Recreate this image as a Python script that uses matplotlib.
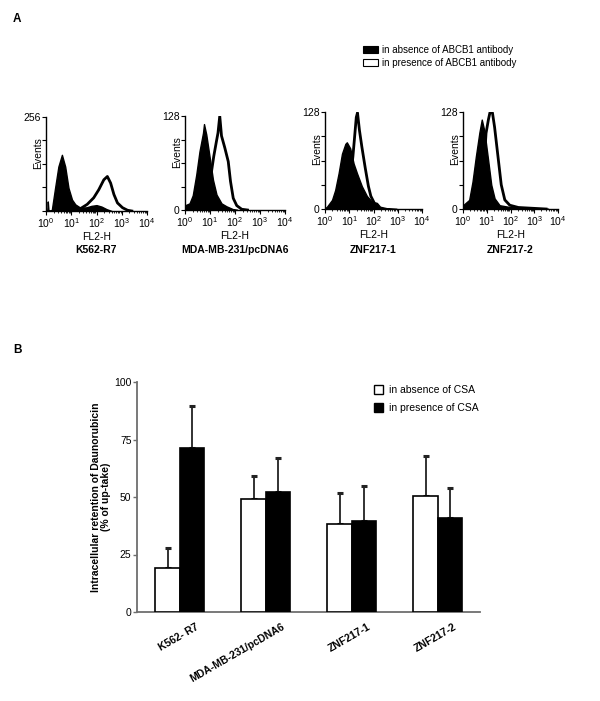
import numpy as np
import matplotlib
matplotlib.use("Agg")
import matplotlib.pyplot as plt
from matplotlib.patches import Patch
from matplotlib.ticker import LogLocator, LogFormatterMathtext, FixedLocator, FixedFormatter, NullFormatter

plt.rcParams['font.family'] = ['Liberation Sans', 'DejaVu Sans']
plt.rcParams['mathtext.fontset'] = 'custom'
plt.rcParams['mathtext.rm'] = 'Liberation Sans'
plt.rcParams['mathtext.it'] = 'Liberation Sans:italic'
plt.rcParams['mathtext.bf'] = 'Liberation Sans:bold'

# ---------------- Panel A data (log10 fluorescence, events) ----------------
k562_abs_d = [0.0, 0.05, 0.07, 0.1, 0.23, 0.36, 0.49, 0.63, 0.76, 0.89, 1.03, 1.16, 1.36, 1.6, 1.8, 2.0, 2.2, 2.4, 2.6]
k562_abs_n = [0, 0, 26, 0, 3, 63, 121, 153, 121, 63, 31, 18, 9, 10, 14, 16, 12, 5, 0]
k562_pres_d = [1.2, 1.4, 1.63, 1.89, 2.09, 2.29, 2.43, 2.56, 2.69, 2.83, 3.03, 3.23, 3.4]
k562_pres_n = [0, 8, 18, 36, 58, 85, 94, 76, 45, 22, 9, 2, 0]

mda_abs_d = [0.0, 0.04, 0.18, 0.31, 0.45, 0.58, 0.72, 0.76, 0.85, 0.99, 1.12, 1.26, 1.46, 1.66, 1.93, 2.1]
mda_abs_n = [0, 7, 9, 20, 48, 80, 105, 117, 103, 71, 41, 21, 9, 5, 1, 0]
mda_pres_d = [0.9, 1.05, 1.15, 1.26, 1.32, 1.39, 1.46, 1.59, 1.73, 1.82, 1.93, 2.07, 2.27, 2.5]
mda_pres_n = [0, 50, 73, 94, 105, 128, 101, 85, 66, 39, 16, 6, 1, 0]

znf1_abs_d = [0.0, 0.08, 0.29, 0.42, 0.56, 0.70, 0.84, 0.9, 1.04, 1.18, 1.32, 1.52, 1.73, 1.93, 2.14, 2.27, 2.55, 2.96]
znf1_abs_n = [1, 3, 12, 25, 47, 73, 86, 88, 80, 60, 47, 30, 17, 10, 8, 3, 1, 0]
znf1_pres_d = [0.9, 1.05, 1.15, 1.21, 1.29, 1.34, 1.42, 1.52, 1.66, 1.79, 1.89, 2.0]
znf1_pres_n = [0, 40, 69, 91, 121, 127, 104, 82, 54, 30, 17, 10]

znf2_abs_d = [0.0, 0.04, 0.26, 0.4, 0.54, 0.69, 0.79, 0.9, 1.04, 1.19, 1.33, 1.54, 1.9, 2.3, 2.8, 3.3, 3.6]
znf2_abs_n = [0, 6, 12, 36, 69, 101, 118, 103, 69, 32, 14, 5, 3, 2, 1, 1, 0]
znf2_pres_d = [0.85, 0.97, 1.07, 1.14, 1.24, 1.33, 1.47, 1.61, 1.76, 1.97, 2.33, 2.9, 3.5]
znf2_pres_n = [40, 100, 118, 128, 127, 108, 70, 32, 12, 5, 2, 1, 0]

hist_names = ['K562-R7', 'MDA-MB-231/pcDNA6', 'ZNF217-1', 'ZNF217-2']
hist_ymax = [256, 128, 128, 128]
legendA_labels = ['in absence of ABCB1 antibody', 'in presence of ABCB1 antibody']

# ---------------- Panel B data ----------------
categories = ['K562- R7', 'MDA-MB-231/pcDNA6', 'ZNF217-1', 'ZNF217-2']
absence_csa = [19.3, 49.0, 38.1, 50.3]
absence_err = [8.5, 10.3, 13.8, 17.5]
presence_csa = [71.4, 52.0, 39.6, 41.0]
presence_err = [18.0, 15.0, 15.0, 12.9]
legendB_labels = ['in absence of CSA', 'in presence of CSA']
b_yticks = [0, 25, 50, 75, 100]

W, H = 600, 701
fig = plt.figure(figsize=(W / 100, H / 100), dpi=100)


def rect(x0, y0, x1, y1):
    return [x0 / W, 1 - y1 / H, (x1 - x0) / W, (y1 - y0) / H]


fig.text(13 / W, 1 - 19 / H, 'A', fontsize=8.5, fontweight='bold', va='center', ha='left')
fig.text(13 / W, 1 - 350 / H, 'B', fontsize=8.5, fontweight='bold', va='center', ha='left')

hist_rects = [(46, 117, 147, 211), (185, 116, 285, 210), (325, 112, 422, 209), (463, 112, 558, 209)]
hist_data = [
    (k562_abs_d, k562_abs_n, k562_pres_d, k562_pres_n),
    (mda_abs_d, mda_abs_n, mda_pres_d, mda_pres_n),
    (znf1_abs_d, znf1_abs_n, znf1_pres_d, znf1_pres_n),
    (znf2_abs_d, znf2_abs_n, znf2_pres_d, znf2_pres_n),
]

for i, (r, (ad, an, pd_, pn)) in enumerate(zip(hist_rects, hist_data)):
    ax = fig.add_axes(rect(*r))
    ymax = hist_ymax[i]
    ax_x = np.power(10.0, ad)
    px = np.power(10.0, pd_)
    ax.fill_between(ax_x, 0, an, color='black', lw=1.0, edgecolor='black', zorder=2)
    ax.plot(px, pn, color='black', lw=2.0, zorder=3, solid_joinstyle='round')
    ax.set_xscale('log')
    ax.set_xlim(1, 1e4)
    ax.set_ylim(0, ymax)
    for s in ['top', 'right']:
        ax.spines[s].set_visible(False)
    for s in ['left', 'bottom']:
        ax.spines[s].set_linewidth(1.0)
    ax.xaxis.set_major_locator(LogLocator(base=10, numticks=10))
    ax.xaxis.set_major_formatter(LogFormatterMathtext())
    ax.xaxis.set_minor_locator(LogLocator(base=10, subs=np.arange(2, 10), numticks=10))
    ax.xaxis.set_minor_formatter(NullFormatter())
    yt = list(np.linspace(0, ymax, 5))
    ax.yaxis.set_major_locator(FixedLocator(yt))
    labels = ['', '', '', '', str(ymax)]
    if i > 0:
        labels[0] = '0'
    ax.yaxis.set_major_formatter(FixedFormatter(labels))
    ax.tick_params(axis='both', which='major', direction='out', length=3, width=0.8, labelsize=7.5, pad=1)
    ax.tick_params(axis='x', which='minor', direction='out', length=1.5, width=0.6)
    ax.set_xlabel('FL2-H', fontsize=7.5, labelpad=1)
    ax.set_ylabel('Events', fontsize=7.5, labelpad=1)
    ax.yaxis.set_label_coords(-0.025, 0.62)
    cx = (r[0] + r[2]) / 2
    fig.text(cx / W, 1 - 250 / H, hist_names[i], fontsize=7.5, fontweight='bold', ha='center', va='center')

handlesA = [Patch(facecolor='black', edgecolor='black', lw=0.8),
            Patch(facecolor='white', edgecolor='black', lw=0.8)]
fig.legend(handlesA, legendA_labels, loc='upper left', bbox_to_anchor=(363 / W, 1 - 45 / H),
           frameon=False, fontsize=7, handlelength=1.5, handleheight=0.6, handletextpad=0.45,
           labelspacing=0.3, borderpad=0, borderaxespad=0)

# ---------------- Panel B ----------------
axb = fig.add_axes(rect(137, 382, 480, 612))
x = np.arange(len(categories))
w = 0.285
axb.bar(x - w / 2, absence_csa, w, color='white', edgecolor='black', lw=1.2, zorder=3,
        yerr=[np.zeros(len(x)), absence_err], capsize=2,
        error_kw=dict(elinewidth=1.3, capthick=2.2, ecolor='#222222', zorder=2))
axb.bar(x + w / 2, presence_csa, w, color='black', edgecolor='black', lw=1.2, zorder=3,
        yerr=[np.zeros(len(x)), presence_err], capsize=2,
        error_kw=dict(elinewidth=1.3, capthick=2.2, ecolor='#222222', zorder=2))
axb.set_xlim(-0.5, 3.49)
axb.set_ylim(0, 100)
axb.set_yticks(b_yticks)
# category labels are anchored slightly right of each group centre, as in the source figure
axb.set_xticks(x + 0.18)
axb.set_xticklabels(categories, rotation=30, ha='right', rotation_mode='anchor',
                    fontsize=7.5, fontweight='bold')
for s in ['top', 'right']:
    axb.spines[s].set_visible(False)
for s in ['left', 'bottom']:
    axb.spines[s].set_color('#6e6e6e')
    axb.spines[s].set_linewidth(1.3)
axb.tick_params(axis='y', direction='out', length=3, width=1.0, color='#6e6e6e', labelsize=7.5, pad=1)
axb.tick_params(axis='x', length=0, pad=7)
axb.set_ylabel('Intracellular retention of Daunorubicin\n(% of up-take)', fontsize=7.5,
               fontweight='bold', linespacing=1.05)
axb.yaxis.set_label_coords(-0.076, 0.5)

handlesB = [Patch(facecolor='white', edgecolor='black', lw=1.0),
            Patch(facecolor='black', edgecolor='black', lw=1.0)]
axb.legend(handlesB, legendB_labels, loc='upper left', bbox_to_anchor=(374 / W, 1 - 385 / H),
           bbox_transform=fig.transFigure, frameon=False, fontsize=7.5, handlelength=0.9,
           handleheight=0.9, handletextpad=0.5, labelspacing=0.75, borderpad=0, borderaxespad=0)

fig.savefig('out.png', dpi=100)
